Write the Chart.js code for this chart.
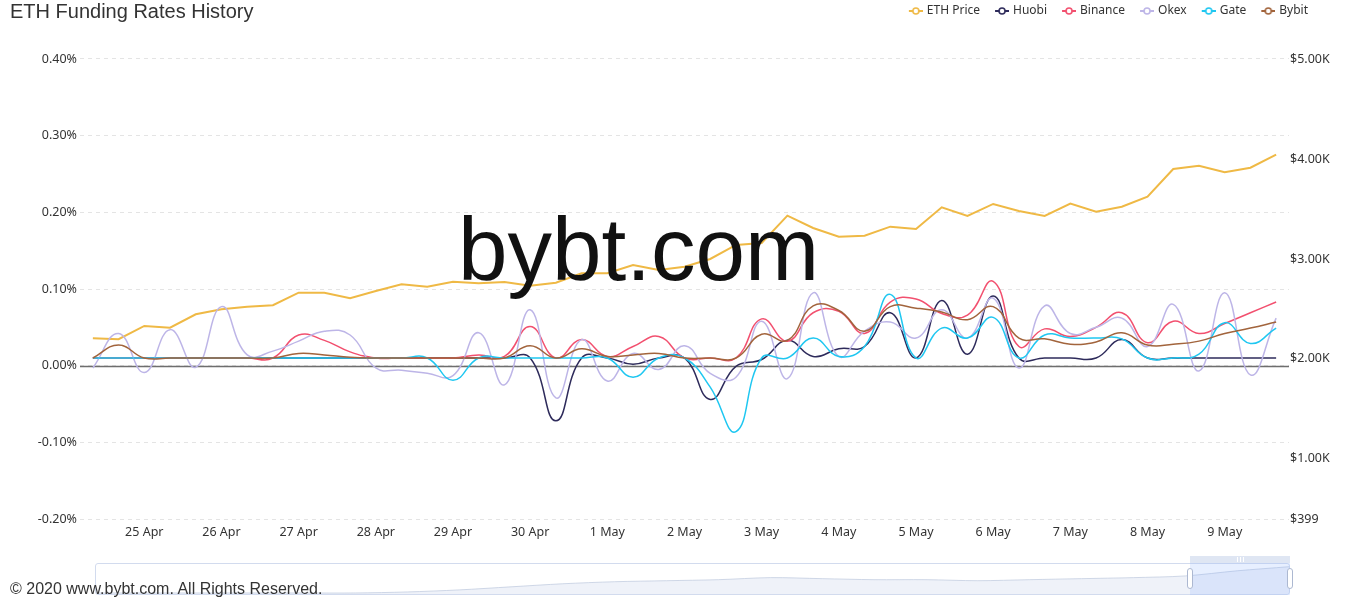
<!DOCTYPE html>
<html>
<head>
<meta charset="utf-8">
<script src="https://cdn.jsdelivr.net/npm/chart.js@4.4.1/dist/chart.umd.min.js"></script>
<style>
html,body{margin:0;padding:0;background:#fff;}
#wrap{position:relative;width:1368px;height:600px;overflow:hidden;}
#main{position:absolute;left:0;top:0;width:1368px;height:600px;}
#title{position:absolute;left:10px;top:-1px;font-family:"Liberation Sans",Arial,sans-serif;font-size:20px;line-height:24px;color:#333;white-space:nowrap;}
#wm{position:absolute;left:458px;top:205px;font-family:"Liberation Sans",Arial,sans-serif;font-size:89px;line-height:89px;color:#111;white-space:nowrap;pointer-events:none;}
#slider{position:absolute;left:95px;top:563px;width:1195px;height:32px;box-sizing:border-box;border:1px solid #d2dbee;border-radius:3px;}
#shadowBox{position:absolute;left:96px;top:564px;width:1193px;height:30px;}
#sel{position:absolute;left:1190px;top:563px;width:100px;height:32px;background:rgba(135,175,255,0.2);}
#moveBar{position:absolute;left:1190px;top:556px;width:100px;height:7px;background:rgba(210,219,238,0.7);}
.grip{position:absolute;top:557px;width:1px;height:5px;background:#fff;}
.handle{position:absolute;top:568px;width:6px;height:21px;background:#fff;border:1px solid #acb8d1;border-radius:3px;box-sizing:border-box;}
#foot{position:absolute;left:10px;top:580px;font-family:"Liberation Sans",Arial,sans-serif;font-size:16px;line-height:18px;color:#333;white-space:nowrap;}
</style>
</head>
<body>
<div id="wrap">
  <div id="main"><canvas id="c"></canvas></div>
  <div id="shadowBox"><canvas id="s"></canvas></div>
  <div id="slider"></div>
  <div id="sel"></div>
  <div id="moveBar"></div>
  <div class="grip" style="left:1237px"></div>
  <div class="grip" style="left:1240px"></div>
  <div class="grip" style="left:1243px"></div>
  <div class="handle" style="left:1187px"></div>
  <div class="handle" style="left:1287px"></div>
  <div id="title">ETH Funding Rates History</div>
  <div id="wm">bybt.com</div>
  <div id="foot">© 2020 www.bybt.com. All Rights Reserved.</div>
</div>
<script>
// ---------- data ----------
const times = [
  "24 Apr 08:00","24 Apr 16:00",
  "25 Apr 00:00","25 Apr 08:00","25 Apr 16:00",
  "26 Apr 00:00","26 Apr 08:00","26 Apr 16:00",
  "27 Apr 00:00","27 Apr 08:00","27 Apr 16:00",
  "28 Apr 00:00","28 Apr 08:00","28 Apr 16:00",
  "29 Apr 00:00","29 Apr 08:00","29 Apr 16:00",
  "30 Apr 00:00","30 Apr 08:00","30 Apr 16:00",
  "1 May 00:00","1 May 08:00","1 May 16:00",
  "2 May 00:00","2 May 08:00","2 May 16:00",
  "3 May 00:00","3 May 08:00","3 May 16:00",
  "4 May 00:00","4 May 08:00","4 May 16:00",
  "5 May 00:00","5 May 08:00","5 May 16:00",
  "6 May 00:00","6 May 08:00","6 May 16:00",
  "7 May 00:00","7 May 08:00","7 May 16:00",
  "8 May 00:00","8 May 08:00","8 May 16:00",
  "9 May 00:00","9 May 08:00","9 May 16:00"
];

const ethPrice = [2207,2197,2330,2313,2447,2497,2523,2537,2663,2663,2607,2680,2747,2723,2773,2757,
  2770,2733,2763,2857,2857,2940,2890,2923,3000,3140,3160,3433,3310,3223,3233,3323,
  3300,3517,3430,3550,3480,3430,3553,3473,3523,3623,3900,3933,3867,3913,4043];

const huobi = [0.01,0.01,0.01,0.01,0.01,0.01,0.01,0.01,0.01,0.01,0.01,0.01,0.01,0.01,0.01,0.01,
  0.01,0.01,-0.072,0.01,0.01,0.002,0.01,0.01,-0.044,-0.001,0.008,0.033,0.012,0.022,0.025,0.069,
  0.01,0.085,0.015,0.091,0.01,0.01,0.01,0.01,0.034,0.01,0.01,0.01,0.01,0.01,0.01];

const binance = [0.01,0.01,0.01,0.01,0.01,0.01,0.01,0.01,0.04,0.033,0.018,0.01,0.01,0.01,0.01,0.014,
  0.012,0.051,0.01,0.034,0.012,0.025,0.038,0.01,0.01,0.01,0.061,0.032,0.069,0.071,0.042,0.083,
  0.087,0.068,0.066,0.11,0.025,0.048,0.038,0.05,0.069,0.03,0.058,0.042,0.055,0.069,0.083];

const okex = [-0.003,0.042,-0.009,0.047,-0.002,0.077,0.014,0.019,0.032,0.045,0.04,-0.003,-0.006,-0.01,-0.013,0.043,
  -0.025,0.073,-0.042,0.034,-0.02,0.016,-0.005,0.026,-0.01,-0.015,0.058,-0.017,0.095,0.012,0.045,0.057,
  0.036,0.073,0.036,0.088,-0.003,0.078,0.042,0.05,0.062,0.025,0.08,-0.007,0.095,-0.012,0.062];

const gate = [0.01,0.01,0.01,0.01,0.01,0.01,0.01,0.01,0.01,0.01,0.01,0.01,0.01,0.01,-0.019,0.01,
  0.01,0.01,0.01,0.01,0.01,-0.015,0.01,0.01,-0.028,-0.086,0.01,0.01,0.036,0.012,0.025,0.093,
  0.01,0.049,0.036,0.063,0.01,0.04,0.036,0.036,0.035,0.01,0.01,0.015,0.056,0.029,0.049];

const bybit = [0.01,0.027,0.01,0.01,0.01,0.01,0.01,0.01,0.016,0.014,0.011,0.01,0.01,0.01,0.01,0.01,
  0.01,0.026,0.01,0.022,0.012,0.014,0.016,0.01,0.01,0.01,0.041,0.033,0.078,0.072,0.045,0.077,
  0.075,0.07,0.06,0.077,0.036,0.035,0.028,0.031,0.043,0.027,0.028,0.032,0.042,0.049,0.057];

const rateTicks = [-0.2,-0.1,0,0.1,0.2,0.3,0.4];
const priceTicks = [399,1000,2000,3000,4000,5000];

// overview (data-zoom shadow)
const overviewPrice = [150,150,150,150,150,150,300,600,1050,1500,1800,1950,2100,2400,2250,2100,
  2100,1950,2100,2250,2400,2650,3400,4000];

// ---------- styling ----------
const FONT = '"Noto Sans", "DejaVu Sans", sans-serif';
const colors = {eth:'#efb945', huobi:'#2e2b5b', binance:'#f2506f', okex:'#bdb5e7', gate:'#1fc7f1', bybit:'#a2643c'};

function legendIcon(color){
  const c = document.createElement('canvas');
  c.width = 26; c.height = 10;
  const g = c.getContext('2d');
  g.strokeStyle = color; g.lineWidth = 2;
  g.beginPath(); g.moveTo(12,5); g.lineTo(26,5); g.stroke();
  g.beginPath(); g.arc(19,5,3,0,Math.PI*2);
  g.fillStyle = '#fff'; g.fill(); g.lineWidth = 1.6; g.stroke();
  return c;
}

function rateSet(label, data, color, order){
  return {label, data, borderColor:color, backgroundColor:color, borderWidth:1.5,
    pointRadius:0, pointHoverRadius:0, tension:0.45, yAxisID:'y', order,
    pointStyle: legendIcon(color)};
}

const zeroLine = {
  id:'zeroLine',
  beforeDatasetsDraw(chart){
    const {ctx, chartArea, scales} = chart;
    const y = Math.round(scales.y.getPixelForValue(0)) + 0.5;
    ctx.save();
    ctx.strokeStyle = '#6e6e6e'; ctx.lineWidth = 1.3;
    ctx.beginPath(); ctx.moveTo(chartArea.left, y); ctx.lineTo(chartArea.right, y); ctx.stroke();
    ctx.restore();
  }
};

const LEGEND_RIGHT = 1313;
const legendShift = {
  id:'legendShift',
  afterLayout(chart){ if (chart.legend) chart.legend.right = LEGEND_RIGHT; }
};

const PLOT_LEFT = 80, PLOT_RIGHT = 1289, PLOT_TOP = 59, PLOT_BOTTOM = 519;

const chart = new Chart(document.getElementById('c'), {
  type:'line',
  data:{
    labels: times,
    datasets:[
      {label:'ETH Price', data:ethPrice, borderColor:colors.eth, backgroundColor:colors.eth, borderWidth:2,
        pointRadius:0, pointHoverRadius:0, tension:0, yAxisID:'y1', order:5, pointStyle: legendIcon(colors.eth)},
      rateSet('Huobi', huobi, colors.huobi, 4),
      rateSet('Binance', binance, colors.binance, 3),
      rateSet('Okex', okex, colors.okex, 2),
      rateSet('Gate', gate, colors.gate, 1),
      rateSet('Bybit', bybit, colors.bybit, 0)
    ]
  },
  options:{
    responsive:true, maintainAspectRatio:false, animation:false,
    events:[],
    layout:{padding:{top:0,right:0,bottom:0,left:0}},
    plugins:{
      tooltip:{enabled:false},
      legend:{
        position:'top', align:'end',
        labels:{usePointStyle:true, pointStyleWidth:22, padding:5, color:'#333',
          font:{family:FONT, size:12},
          sort:(a,b)=>a.datasetIndex-b.datasetIndex}
      }
    },
    scales:{
      x:{
        type:'category', offset:true,
        grid:{display:false, drawTicks:false},
        border:{display:false},
        ticks:{autoSkip:false, maxRotation:0, minRotation:0, padding:6, color:'#333',
          font:{family:FONT, size:12.5},
          callback:function(v,i){ const l = times[i]; return l.endsWith(' 00:00') ? l.slice(0,-6) : ''; }},
        afterFit:(s)=>{ s.height = 600 - PLOT_BOTTOM; }
      },
      y:{
        position:'left', min:-0.2, max:0.4417,
        grid:{color:'#e4e4e4', drawTicks:false, lineWidth:1},
        border:{display:false, dash:[4,4]},
        ticks:{padding:3, color:'#333', font:{family:FONT, size:12.5},
          callback:(v)=>v.toFixed(2)+'%'},
        afterBuildTicks:(s)=>{ s.ticks = rateTicks.map(v=>({value:v})); },
        afterFit:(s)=>{ s.width = PLOT_LEFT; }
      },
      y1:{
        position:'right', min:399, max:5320,
        grid:{display:false, drawTicks:false},
        border:{display:false},
        ticks:{padding:1, color:'#333', font:{family:FONT, size:12.5},
          callback:(v)=> v < 1000 ? '$'+Math.round(v) : '$'+(v/1000).toFixed(2)+'K'},
        afterBuildTicks:(s)=>{ s.ticks = priceTicks.map(v=>({value:v})); },
        afterFit:(s)=>{ s.width = 1368 - PLOT_RIGHT; }
      }
    }
  },
  plugins:[zeroLine, legendShift]
});

// align the value ranges so the ticks sit on the reference pixel rows
(function align(){
  const T = chart.chartArea.top, B = chart.chartArea.bottom;
  const rPerPx = (0.4 - (-0.2)) / (PLOT_BOTTOM - PLOT_TOP);
  const pPerPx = (5000 - 399) / (PLOT_BOTTOM - PLOT_TOP);
  chart.options.scales.y.max = 0.4 + (PLOT_TOP - T) * rPerPx;
  chart.options.scales.y.min = -0.2 - (B - PLOT_BOTTOM) * rPerPx;
  chart.options.scales.y1.max = 5000 + (PLOT_TOP - T) * pPerPx;
  chart.options.scales.y1.min = 399 - (B - PLOT_BOTTOM) * pPerPx;
  chart.update('none');
})();

// data-zoom overview strip
new Chart(document.getElementById('s'), {
  type:'line',
  data:{labels: overviewPrice.map((_,i)=>i),
    datasets:[{data:overviewPrice, borderColor:'rgba(190,200,222,0.9)', borderWidth:0.8,
      backgroundColor:'rgba(210,219,238,0.35)', fill:'origin', pointRadius:0, tension:0.3}]},
  options:{responsive:true, maintainAspectRatio:false, animation:false, events:[],
    layout:{padding:0},
    plugins:{legend:{display:false}, tooltip:{enabled:false}},
    scales:{x:{display:false}, y:{display:false, min:0, max:4400}}}
});
</script>
</body>
</html>
